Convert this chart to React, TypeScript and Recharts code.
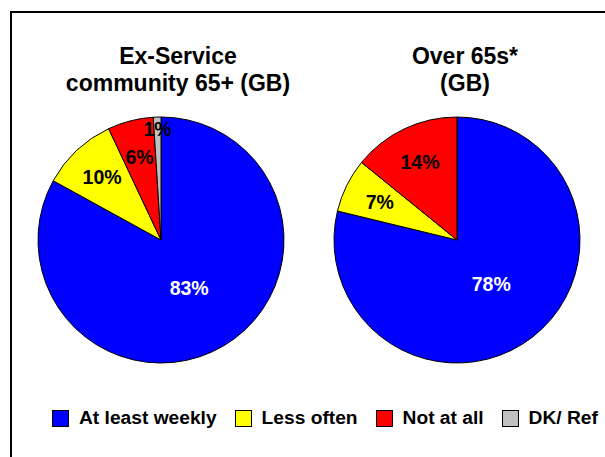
import { PieChart, Pie, Cell, Legend } from 'recharts';

const categories = ['At least weekly', 'Less often', 'Not at all', 'DK/ Ref'];
const colors = ['#0000FF', '#FFFF00', '#FF0000', '#C0C0C0'];
const exServiceValues = [83, 10, 6, 1];
const over65Values = [78, 7, 14];
const exServiceTitle = ['Ex-Service', 'community 65+ (GB)'];
const over65Title = ['Over 65s*', '(GB)'];

const exServiceData = exServiceValues.map((value, i) => ({ name: categories[i], value }));
const over65Data = over65Values.map((value, i) => ({ name: categories[i], value }));

const FONT = 'Arial, "Liberation Sans", Helvetica, sans-serif';
const RADIAN = Math.PI / 180;

const renderLabel = (props: any) => {
  const { cx, cy, midAngle, outerRadius, percent, value, index } = props;
  // big slice label sits near the middle, tiny ones out near the rim
  const f = percent > 0.5 ? 0.45 : percent < 0.03 ? 0.9 : 0.7;
  const r = outerRadius * f;
  const x = cx + r * Math.cos(-midAngle * RADIAN);
  const y = cy + r * Math.sin(-midAngle * RADIAN);
  return (
    <text
      x={x}
      y={y}
      fill={index === 0 ? '#FFFFFF' : '#000000'}
      textAnchor="middle"
      dominantBaseline="central"
      fontFamily={FONT}
      fontWeight="bold"
      fontSize={19.5}
    >
      {`${value}%`}
    </text>
  );
};

const renderLegend = () => (
  <div
    style={{
      display: 'flex',
      alignItems: 'center',
      whiteSpace: 'nowrap',
      width: 'max-content',
      fontFamily: FONT,
      fontWeight: 'bold',
      fontSize: 19.2,
    }}
  >
    {categories.map((c, i) => (
      <div key={c} style={{ display: 'flex', alignItems: 'center', flexShrink: 0, marginRight: 18 }}>
        <span
          style={{
            display: 'inline-block',
            flexShrink: 0,
            width: 15,
            height: 15,
            background: colors[i],
            border: '1px solid #000',
            marginRight: 10,
          }}
        />
        <span>{c}</span>
      </div>
    ))}
  </div>
);

function Title({ lines, x }: { lines: string[]; x: number }) {
  return (
    <div
      style={{
        position: 'absolute',
        left: x - 150,
        width: 300,
        top: 43,
        textAlign: 'center',
        fontFamily: FONT,
        fontWeight: 'bold',
        fontSize: 23,
        lineHeight: '27px',
      }}
    >
      {lines.map((l) => (
        <div key={l}>{l}</div>
      ))}
    </div>
  );
}

export default function App() {
  return (
    <div style={{ position: 'absolute', left: 0, top: 0, width: 605, height: 457, background: '#fff', overflow: 'hidden' }}>
      <div
        style={{
          position: 'absolute',
          left: 10,
          top: 11,
          width: 620,
          height: 470,
          border: '2px solid #000',
          boxSizing: 'border-box',
        }}
      />
      <Title lines={exServiceTitle} x={178} />
      <Title lines={over65Title} x={465} />
      <PieChart
        width={605}
        height={457}
        margin={{ top: 0, right: 0, bottom: 0, left: 0 }}
        style={{ position: 'absolute', left: 0, top: 0 }}
      >
        <Pie
          data={exServiceData}
          dataKey="value"
          cx={161}
          cy={240}
          outerRadius={123}
          startAngle={90}
          endAngle={-270}
          stroke="#000"
          strokeWidth={1}
          label={renderLabel}
          labelLine={false}
          isAnimationActive={false}
        >
          {exServiceData.map((d, i) => (
            <Cell key={d.name} fill={colors[i]} />
          ))}
        </Pie>
        <Pie
          data={over65Data}
          dataKey="value"
          cx={457}
          cy={240}
          outerRadius={123}
          startAngle={90}
          endAngle={-270}
          stroke="#000"
          strokeWidth={1}
          label={renderLabel}
          labelLine={false}
          isAnimationActive={false}
        >
          {over65Data.map((d, i) => (
            <Cell key={d.name} fill={colors[i]} />
          ))}
        </Pie>
        <Legend content={renderLegend} wrapperStyle={{ left: 52, top: 407, width: 560 }} />
      </PieChart>
    </div>
  );
}
